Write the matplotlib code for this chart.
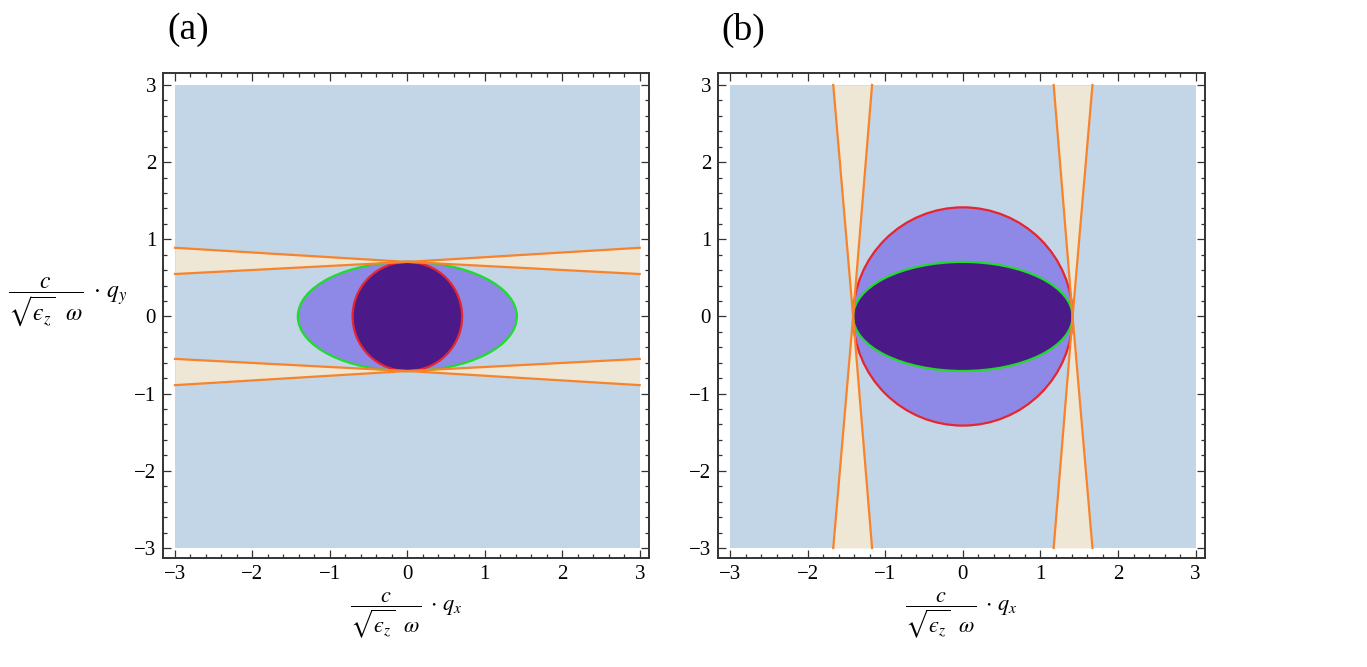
import numpy as np
import matplotlib
matplotlib.use('Agg')
import matplotlib.pyplot as plt
from matplotlib.patches import Circle, Ellipse, Rectangle
from matplotlib.ticker import MultipleLocator

plt.rcParams['font.family'] = ['Liberation Serif', 'DejaVu Serif']
plt.rcParams['mathtext.fontset'] = 'stix'

# regions (units of c/(sqrt(eps_z) w) * q)
r_small = 0.707      # 1/sqrt(2)
r_big = 1.414        # sqrt(2)

# panel (a): thin bands crossing at (0, +-r_small)
band_a_x = [-3, 0, 3]
band_a_outer = [0.89, 0.707, 0.89]
band_a_inner = [0.55, 0.707, 0.55]

# panel (b): thin bands crossing at (+-r_big, 0)
band_b_y = [-3, 0, 3]
band_b_outer = [1.67, 1.414, 1.67]
band_b_inner = [1.17, 1.414, 1.17]

ticks = [-3, -2, -1, 0, 1, 2, 3]

c_bg = '#c2d6e7'
c_mid = '#8e88e6'
c_dark = '#4b1a88'
c_beige = '#efe7d6'
c_orange = '#f7832c'
c_red = '#e8252d'
c_green = '#1fdc2a'

fig = plt.figure(figsize=(13.67, 6.67), dpi=100)
ax_a = fig.add_axes([163 / 1367, 109 / 667, 486 / 1367, 485 / 667])
ax_b = fig.add_axes([718 / 1367, 109 / 667, 487 / 1367, 485 / 667])

xlabel = r'$\dfrac{c}{\sqrt{ϵ_z}\ \ \omega}\ \cdot\, q_x$'
ylabel = r'$\dfrac{c}{\sqrt{ϵ_z}\ \ \omega}\ \cdot\, q_y$'


def style(ax):
    ax.set_xlim(-3.155, 3.12)
    ax.set_ylim(-3.13, 3.155)
    ax.set_xticks(ticks)
    ax.set_yticks(ticks)
    ax.xaxis.set_minor_locator(MultipleLocator(0.2))
    ax.yaxis.set_minor_locator(MultipleLocator(0.2))
    ax.tick_params(which='both', direction='in', top=True, right=True,
                   color='#333333', width=0.9, labelsize=15)
    ax.tick_params(which='major', length=6, pad=5)
    ax.tick_params(which='minor', length=3)
    for s in ax.spines.values():
        s.set_linewidth(1.4)
        s.set_color('#333333')
    ax.add_patch(Rectangle((-3, -3), 6, 6, color=c_bg, lw=0, zorder=0))


# ---- panel (a)
ax = ax_a
style(ax)
ax.add_patch(Ellipse((0, 0), 2 * r_big, 2 * r_small, fc=c_mid, ec='none', zorder=1))
ax.add_patch(Circle((0, 0), r_small, fc=c_dark, ec='none', zorder=2))
for sgn in (1, -1):
    outer = sgn * np.array(band_a_outer)
    inner = sgn * np.array(band_a_inner)
    ax.fill_between(band_a_x, inner, outer, color=c_beige, lw=0, zorder=3)
ax.add_patch(Ellipse((0, 0), 2 * r_big, 2 * r_small, fc='none', ec=c_green, lw=1.6, zorder=4))
ax.add_patch(Circle((0, 0), r_small, fc='none', ec=c_red, lw=1.6, zorder=4))
for sgn in (1, -1):
    ax.plot(band_a_x, sgn * np.array(band_a_outer), color=c_orange, lw=1.6, zorder=5)
    ax.plot(band_a_x, sgn * np.array(band_a_inner), color=c_orange, lw=1.6, zorder=5)
ax.text(0.5, -0.117, xlabel, transform=ax.transAxes, ha='center', va='center', fontsize=16)

# ---- panel (b)
ax = ax_b
style(ax)
ax.add_patch(Circle((0, 0), r_big, fc=c_mid, ec='none', zorder=1))
ax.add_patch(Ellipse((0, 0), 2 * r_big, 2 * r_small, fc=c_dark, ec='none', zorder=2))
for sgn in (1, -1):
    outer = sgn * np.array(band_b_outer)
    inner = sgn * np.array(band_b_inner)
    ax.fill_betweenx(band_b_y, inner, outer, color=c_beige, lw=0, zorder=3)
ax.add_patch(Circle((0, 0), r_big, fc='none', ec=c_red, lw=1.6, zorder=4))
ax.add_patch(Ellipse((0, 0), 2 * r_big, 2 * r_small, fc='none', ec=c_green, lw=1.6, zorder=4))
for sgn in (1, -1):
    ax.plot(sgn * np.array(band_b_outer), band_b_y, color=c_orange, lw=1.6, zorder=5)
    ax.plot(sgn * np.array(band_b_inner), band_b_y, color=c_orange, lw=1.6, zorder=5)
ax.text(0.5, -0.117, xlabel, transform=ax.transAxes, ha='center', va='center', fontsize=16)

fig.text(8 / 1367, 1 - 302 / 667, ylabel, ha='left', va='center', fontsize=17)
fig.text(188 / 1367, 1 - 30 / 667, '(a)', ha='center', va='center', fontsize=27)
fig.text(743 / 1367, 1 - 30 / 667, '(b)', ha='center', va='center', fontsize=27)

fig.savefig('out.png', dpi=100)
